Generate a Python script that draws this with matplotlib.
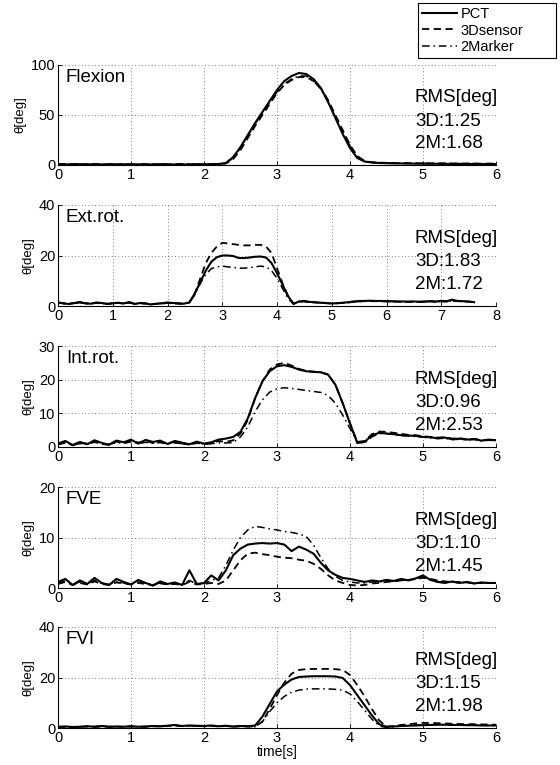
import numpy as np
import matplotlib
matplotlib.use("Agg")
import matplotlib.pyplot as plt

plt.rcParams['font.family'] = ['Liberation Sans', 'DejaVu Sans']

# sample times (0.1 s grid)
t6 = np.round(np.arange(61) * 0.1, 1)
t76 = np.round(np.arange(77) * 0.1, 1)

# --- Flexion ---
pct_flex = [0.8, 0.6, 0.7, 0.5, 0.6, 0.7, 0.5, 0.6, 0.5, 0.6, 0.5, 0.6, 0.5, 0.5, 0.6, 0.5, 0.5, 0.6, 0.5, 0.6, 0.7, 0.8, 1.0,
            2, 8, 18, 30, 42, 53, 64, 75, 84, 89, 92, 91, 86, 77, 63, 47, 31, 17, 7, 3.5,
            2.5, 2, 1.8, 1.6, 1.5, 1.4, 1.3, 1.3, 1.2, 1.2, 1.1, 1.1, 1.0, 1.0, 1.0, 0.9, 0.9, 0.9]
sen_flex = [1.0, 0.8, 0.9, 0.7, 0.8, 0.9, 0.7, 0.8, 0.7, 0.8, 0.7, 0.8, 0.7, 0.7, 0.8, 0.7, 0.7, 0.8, 0.7, 0.8, 0.8, 0.9, 1.0,
            1.5, 6, 15, 27, 39, 50, 61, 72, 80, 85, 88, 88, 84, 77, 65, 50, 35, 20, 9, 4,
            2.8, 2.4, 2.2, 2.0, 1.9, 1.8, 1.8, 1.7, 1.7, 1.6, 1.6, 1.5, 1.5, 1.5, 1.4, 1.4, 1.4, 1.4]
mk_flex = [1.2, 0.9, 1.1, 0.8, 1.0, 1.2, 0.8, 1.0, 0.9, 1.1, 0.8, 1.0, 0.9, 0.8, 1.0, 0.9, 0.8, 1.0, 0.9, 0.9, 0.9, 1.0, 1.0,
           1.5, 7, 17, 29, 41, 52, 63, 73, 81, 86, 89, 89, 84, 76, 63, 48, 33, 19, 8, 3.5,
           2.5, 2.2, 2.0, 1.9, 1.8, 1.7, 1.7, 1.6, 1.6, 1.5, 1.5, 1.5, 1.4, 1.4, 1.4, 1.3, 1.3, 1.3]

# --- Ext.rot. ---
pct_ext = [1.5, 1.0, 0.8, 1.2, 1.6, 1.0, 0.9, 1.4, 1.2, 0.8, 1.1, 1.3, 1.0, 1.6, 0.8, 1.2, 1.0, 0.6, 0.9, 1.1, 1.4, 1.2, 1.0, 0.9,
           1.5, 5, 9.5, 14, 17.5, 19.3, 20, 20, 19.8, 19, 19, 19.2, 19.5, 19.6, 19.2, 17, 13, 8.5, 4, 0.8,
           1.8, 2.0, 1.6, 1.5, 1.3, 1.2, 1.0, 1.1, 1.3, 1.5, 1.8, 2.0, 2.0, 2.1, 2.0, 2.0, 1.9, 1.9, 1.8, 1.8, 1.7, 1.8,
           1.7, 1.8, 1.9, 1.8, 2.0, 1.9, 2.5, 2.0, 1.9, 1.8, 1.5]
sen_ext = [1.3, 1.1, 0.9, 1.1, 1.4, 1.1, 1.0, 1.2, 1.1, 0.9, 1.0, 1.2, 1.0, 1.4, 0.9, 1.1, 1.0, 0.7, 0.9, 1.0, 1.2, 1.1, 1.0, 0.9,
           1.3, 5, 11, 17, 21, 23.5, 25, 24.8, 24.5, 24.2, 24, 24, 24.2, 24.2, 23.5, 21, 15, 9, 4, 1,
           1.6, 1.8, 1.5, 1.4, 1.2, 1.1, 1.0, 1.1, 1.2, 1.4, 1.6, 1.8, 1.9, 1.9, 1.9, 1.9, 1.8, 1.8, 1.7, 1.7, 1.7, 1.7,
           1.6, 1.7, 1.8, 1.7, 1.8, 1.8, 2.0, 1.9, 1.8, 1.7, 1.5]
mk_ext = [1.2, 1.0, 0.9, 1.0, 1.3, 1.0, 1.0, 1.1, 1.0, 0.9, 1.0, 1.1, 1.0, 1.2, 0.9, 1.0, 1.0, 0.8, 0.9, 1.0, 1.1, 1.0, 1.0, 0.9,
          1.2, 4.5, 9, 12.5, 14.8, 15.5, 15.8, 15.5, 15.3, 15, 15, 15.2, 15.5, 15.8, 15.5, 14, 11, 7, 3, 0.8,
          1.6, 1.8, 1.5, 1.4, 1.2, 1.1, 1.0, 1.1, 1.2, 1.4, 1.6, 1.8, 1.9, 1.9, 1.9, 1.9, 1.8, 1.8, 1.7, 1.7, 1.7, 1.7,
          1.6, 1.7, 1.8, 1.7, 1.8, 1.8, 2.0, 1.9, 1.8, 1.7, 1.5]

# --- Int.rot. ---
pct_int = [1.0, 1.8, 0.6, 1.5, 0.8, 2.0, 1.2, 0.7, 1.9, 1.4, 2.2, 1.0, 2.1, 1.5, 1.9, 0.9, 1.8, 1.3, 0.8, 1.6, 1.0, 1.4, 2.2,
           2.5, 3, 4.5, 8.5, 14.5, 19.5, 22.5, 24, 24.3, 23.8, 23, 22.5, 22.3, 22.2, 21.5, 18.5, 13, 7, 1.2, 1.5,
           3.5, 4.2, 4.0, 3.8, 3.5, 3.4, 3.3, 3.0, 2.9, 2.6, 2.8, 2.3, 2.5, 2.2, 2.4, 1.9, 2.2, 2.0]
sen_int = [0.8, 1.5, 0.5, 1.2, 1.0, 1.8, 0.9, 0.6, 1.6, 1.2, 2.0, 1.3, 1.8, 1.2, 1.6, 1.1, 1.5, 1.0, 0.7, 1.3, 0.8, 1.1, 1.8,
           1.5, 2, 4, 8, 14.5, 19.5, 23, 24.5, 25, 24.2, 23.2, 22.6, 22.4, 22.2, 21.5, 18.5, 13, 7, 1.5, 1.8,
           3.8, 4.6, 4.5, 4.2, 3.9, 3.6, 3.5, 3.2, 3.0, 2.8, 2.9, 2.5, 2.6, 2.3, 2.4, 2.0, 2.1, 2.0]
mk_int = [0.7, 1.2, 0.6, 1.0, 0.9, 1.4, 1.0, 0.8, 1.3, 1.1, 1.5, 1.0, 1.4, 1.1, 1.3, 0.9, 1.2, 1.0, 0.8, 1.1, 0.9, 1.0, 1.2,
          1.2, 1.3, 3, 6, 10.5, 14, 16.3, 17.3, 17.6, 17.4, 17.1, 16.8, 16.5, 16.2, 15.3, 13, 9.5, 5.5, 1.5, 1.2,
          3.0, 4.0, 4.0, 3.7, 3.4, 3.3, 3.1, 2.9, 2.7, 2.5, 2.6, 2.2, 2.3, 2.1, 2.2, 1.8, 2.0, 1.9]

# --- FVE ---
pct_fve = [1.2, 1.8, 0.6, 1.5, 0.8, 2.0, 1.0, 0.6, 1.8, 1.2, 0.7, 1.6, 1.0, 0.5, 1.3, 0.8, 1.1, 0.6, 3.5, 0.8, 1.0, 2.5,
           1.5, 3.5, 6.5, 7.8, 8.6, 8.8, 8.9, 8.8, 8.9, 8.6, 7.3, 8.2, 7.6, 6.8, 5.0, 3.5, 2.6, 2.0, 1.8, 1.5,
           1.2, 1.5, 1.3, 1.6, 1.4, 1.8, 1.5, 1.9, 2.5, 1.6, 1.2, 1.0, 1.3, 1.0, 1.2, 0.9, 1.1, 1.0, 1.0]
sen_fve = [0.8, 1.2, 0.6, 1.0, 0.7, 1.3, 0.8, 0.6, 1.1, 0.9, 0.7, 1.0, 0.8, 0.5, 0.9, 0.7, 0.8, 0.6, 1.2, 0.7, 0.8, 1.0,
           0.8, 1.5, 3.5, 5.5, 6.8, 7.0, 6.7, 6.5, 6.2, 6.0, 5.9, 5.6, 5.4, 4.8, 3.8, 2.5, 1.5, 1.0, 0.6, 0.5,
           0.6, 0.9, 1.0, 1.2, 1.3, 1.5, 1.6, 1.8, 2.0, 1.8, 1.5, 1.3, 1.2, 1.2, 1.1, 1.0, 1.0, 1.0, 1.0]
mk_fve = [1.0, 1.4, 0.7, 1.2, 0.8, 1.5, 0.9, 0.7, 1.3, 1.0, 0.8, 1.2, 0.9, 0.6, 1.0, 0.8, 0.9, 0.7, 1.5, 0.8, 0.9, 1.5,
          2.0, 4.5, 7.5, 10.0, 11.5, 12.2, 12.0, 11.7, 11.5, 11.2, 11.0, 10.7, 10.2, 8.5, 6.0, 3.8, 2.3, 1.5, 1.2, 1.0,
          1.0, 1.2, 1.2, 1.4, 1.3, 1.5, 1.6, 1.7, 2.2, 1.7, 1.3, 1.1, 1.2, 1.0, 1.1, 0.9, 1.0, 1.0, 1.0]

# --- FVI ---
pct_fvi = [0.5, 0.6, 0.4, 0.5, 0.7, 0.5, 0.8, 0.5, 0.6, 0.5, 0.7, 0.5, 0.6, 0.8, 0.7, 0.9, 1.2, 0.8, 1.0, 0.9, 0.8, 1.0, 0.7, 0.9, 0.6, 0.8, 0.7,
           1.0, 4.5, 9.5, 14.5, 17.2, 19.2, 20.2, 20.4, 20.5, 20.5, 20.5, 20.4, 19.8, 17, 13, 9, 5, 1.5, 0.5,
           0.6, 0.8, 0.9, 1.0, 1.1, 1.2, 1.3, 1.3, 1.2, 1.2, 1.1, 1.1, 1.0, 1.0, 1.0]
sen_fvi = [0.4, 0.5, 0.4, 0.4, 0.6, 0.5, 0.6, 0.5, 0.5, 0.5, 0.6, 0.5, 0.5, 0.7, 0.6, 0.8, 1.0, 0.7, 0.9, 0.8, 0.7, 0.9, 0.6, 0.8, 0.5, 0.7, 0.6,
           0.6, 2.5, 7.5, 13.0, 18.0, 21.5, 23.0, 23.3, 23.4, 23.4, 23.4, 23.3, 23.0, 21.0, 17.0, 12.5, 7.5, 3.0, 0.5,
           0.8, 1.2, 1.5, 1.8, 2.0, 2.0, 1.9, 1.8, 1.7, 1.6, 1.5, 1.5, 1.4, 1.4, 1.3]
mk_fvi = [0.4, 0.5, 0.4, 0.5, 0.6, 0.5, 0.7, 0.5, 0.5, 0.5, 0.6, 0.5, 0.5, 0.7, 0.6, 0.8, 1.0, 0.7, 0.9, 0.8, 0.7, 0.9, 0.6, 0.8, 0.5, 0.7, 0.6,
          0.5, 2.5, 6.5, 10.0, 12.5, 14.2, 15.0, 15.4, 15.5, 15.5, 15.5, 15.3, 15.0, 13.5, 10.5, 7.0, 3.5, 0.8, 0.2,
          0.5, 0.8, 1.0, 1.1, 1.2, 1.3, 1.3, 1.3, 1.2, 1.2, 1.2, 1.1, 1.1, 1.0, 1.0]

panel_names = ["Flexion", "Ext.rot.", "Int.rot.", "FVE", "FVI"]
rms_3d = ["1.25", "1.83", "0.96", "1.10", "1.15"]
rms_2m = ["1.68", "1.72", "2.53", "1.45", "1.98"]
x_max = [6, 8, 6, 6, 6]
y_ticks = [[0, 50, 100], [0, 20, 40], [0, 10, 20, 30], [0, 10, 20], [0, 20, 40]]
series = [
    (t6, pct_flex, sen_flex, mk_flex),
    (t76, pct_ext, sen_ext, mk_ext),
    (t6, pct_int, sen_int, mk_int),
    (t6, pct_fve, sen_fve, mk_fve),
    (t6, pct_fvi, sen_fvi, mk_fvi),
]

fig = plt.figure(figsize=(5.6, 7.65), dpi=100)

# axes boxes in pixels (top, bottom) for each panel
W, H = 560.0, 765.0
left, right = 58, 496
rows = [(65, 165), (205, 306), (346, 447), (487, 588), (627, 728)]

handles = None
for i, (top, bot) in enumerate(rows):
    ax = fig.add_axes([left / W, 1 - bot / H, (right - left) / W, (bot - top) / H])
    t, pct, sen, mk = series[i]
    l1, = ax.plot(t, pct, color='k', lw=1.5, ls='-')
    l2, = ax.plot(t, sen, color='k', lw=1.3, ls=(0, (4, 2.5)))
    l3, = ax.plot(t, mk, color='k', lw=1.1, ls=(0, (5, 2.5, 1, 2.5)))
    if handles is None:
        handles = [l1, l2, l3]

    ax.set_xlim(0, x_max[i])
    ax.set_ylim(y_ticks[i][0], y_ticks[i][-1])
    ax.set_xticks(range(0, x_max[i] + 1))
    ax.set_yticks(y_ticks[i])
    ax.tick_params(direction='in', length=3, width=0.6, labelsize=10.5, pad=2)
    ax.spines['top'].set_visible(False)
    ax.spines['right'].set_visible(False)
    ax.grid(True, color='0.35', lw=0.6, ls=(0, (1, 3)))
    ax.set_ylabel("θ[deg]", fontsize=9.5, labelpad=3)

    ax.text(0.018, 0.88, panel_names[i], transform=ax.transAxes, fontsize=13.5, va='center', ha='left')
    ax.text(0.815, 0.67, "RMS[deg]", transform=ax.transAxes, fontsize=13.5, va='center', ha='left')
    ax.text(0.815, 0.44, "3D:" + rms_3d[i], transform=ax.transAxes, fontsize=13.5, va='center', ha='left')
    ax.text(0.815, 0.21, "2M:" + rms_2m[i], transform=ax.transAxes, fontsize=13.5, va='center', ha='left')

    if i == 4:
        ax.set_xlabel("time[s]", fontsize=10, labelpad=0)

leg = fig.legend(handles, ["PCT", "3Dsensor", "2Marker"], loc='upper left',
                 bbox_to_anchor=(418 / W, 1 - 53 / H, 138 / W, 50 / H), mode='expand',
                 fontsize=10.5, frameon=True, fancybox=False, handlelength=2.4,
                 handletextpad=0.2, labelspacing=0.15, borderpad=0.3, borderaxespad=0)
leg.get_frame().set_edgecolor('k')
leg.get_frame().set_linewidth(0.8)
leg.get_frame().set_alpha(1)

fig.savefig("out.png", dpi=100)
